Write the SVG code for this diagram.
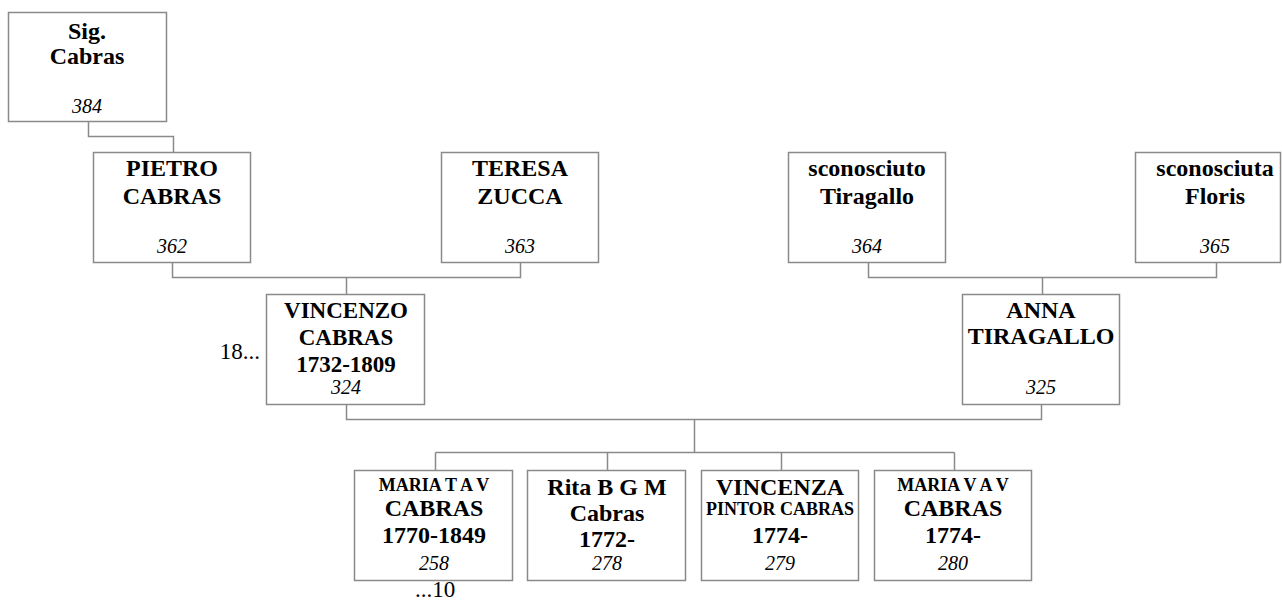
<svg xmlns="http://www.w3.org/2000/svg" width="1282" height="602" viewBox="0 0 1282 602">
<style>
.box{fill:#fff;stroke:#8a8a8a;stroke-width:1.5}
.ln{fill:none;stroke:#8a8a8a;stroke-width:1.5}
text{font-family:'Liberation Serif','Times New Roman','DejaVu Serif',serif;fill:#000;text-anchor:middle}
.n{font-weight:bold;font-size:24px}
.n23{font-weight:bold;font-size:23px}
.s{font-weight:bold;font-size:18px}
.id{font-style:italic;font-size:20px}
.r{font-size:23px}
</style>
<rect width="1282" height="602" fill="#fff"/>
<g id="connectors">
<path class="ln" d="M88.5,121 V136.5 H173.5 V152.5"/>
<path class="ln" d="M172.5,262.5 V277.5 H520.5 V262.5 M346.5,277.5 V294"/>
<path class="ln" d="M868.5,262.5 V277.5 H1216.5 V262.5 M1042.5,277.5 V294"/>
<path class="ln" d="M346.5,404 V419.5 H1041.5 V404 M694.5,419.5 V452.5"/>
<path class="ln" d="M435.5,452.5 H954.5 M435.5,452.5 V470 M607.5,452.5 V470 M781.5,452.5 V470 M954.5,452.5 V470"/>
</g>
<g font-family="Liberation Serif, serif">
<g id="n384">
<rect class="box" x="8.5" y="12.5" width="158" height="109"/>
<text class="n" x="87" y="39">Sig.</text>
<text class="n" x="87" y="64">Cabras</text>
<text class="id" x="87" y="113">384</text>
</g>
<g id="n362">
<rect class="box" x="93.5" y="152.5" width="157" height="110"/>
<text class="n" x="172" y="176">PIETRO</text>
<text class="n" x="172" y="204">CABRAS</text>
<text class="id" x="172" y="253">362</text>
</g>
<g id="n363">
<rect class="box" x="441.5" y="152.5" width="157" height="110"/>
<text class="n" x="520" y="176">TERESA</text>
<text class="n" x="520" y="204">ZUCCA</text>
<text class="id" x="520" y="253">363</text>
</g>
<g id="n364">
<rect class="box" x="788.5" y="152.5" width="157" height="110"/>
<text class="n" x="867" y="176">sconosciuto</text>
<text class="n" x="867" y="204">Tiragallo</text>
<text class="id" x="867" y="253">364</text>
</g>
<g id="n365">
<rect class="box" x="1135.5" y="152.5" width="145" height="110"/>
<text class="n" x="1215" y="176">sconosciuta</text>
<text class="n" x="1215" y="204">Floris</text>
<text class="id" x="1215" y="253">365</text>
</g>
<g id="n324">
<rect class="box" x="266.5" y="294.5" width="158" height="110"/>
<text class="n23" x="346" y="318">VINCENZO</text>
<text class="n23" x="346" y="345">CABRAS</text>
<text class="n23" x="346" y="372">1732-1809</text>
<text class="id" x="346" y="394">324</text>
<text class="r" x="260" y="359" style="text-anchor:end">18...</text>
</g>
<g id="n325">
<rect class="box" x="962.5" y="294.5" width="157" height="110"/>
<text class="n" x="1041" y="318">ANNA</text>
<text class="n" x="1041" y="344">TIRAGALLO</text>
<text class="id" x="1041" y="394">325</text>
</g>
<g id="n258">
<rect class="box" x="354.5" y="470.5" width="158" height="110"/>
<text class="s" x="434" y="491">MARIA T A V</text>
<text class="n" x="434" y="516">CABRAS</text>
<text class="n" x="434" y="543">1770-1849</text>
<text class="id" x="434" y="570">258</text>
<text class="r" x="435" y="597">...10</text>
</g>
<g id="n278">
<rect class="box" x="527.5" y="470.5" width="158" height="110"/>
<text class="n" x="607" y="495">Rita B G M</text>
<text class="n" x="607" y="521">Cabras</text>
<text class="n" x="607" y="547">1772-</text>
<text class="id" x="607" y="570">278</text>
</g>
<g id="n279">
<rect class="box" x="701.5" y="470.5" width="157" height="110"/>
<text class="n" x="780" y="495">VINCENZA</text>
<text class="s" x="780" y="515">PINTOR CABRAS</text>
<text class="n" x="780" y="543">1774-</text>
<text class="id" x="780" y="570">279</text>
</g>
<g id="n280">
<rect class="box" x="874.5" y="470.5" width="157" height="110"/>
<text class="s" x="953" y="491">MARIA V A V</text>
<text class="n" x="953" y="516">CABRAS</text>
<text class="n" x="953" y="543">1774-</text>
<text class="id" x="953" y="570">280</text>
</g>
</g>
</svg>
